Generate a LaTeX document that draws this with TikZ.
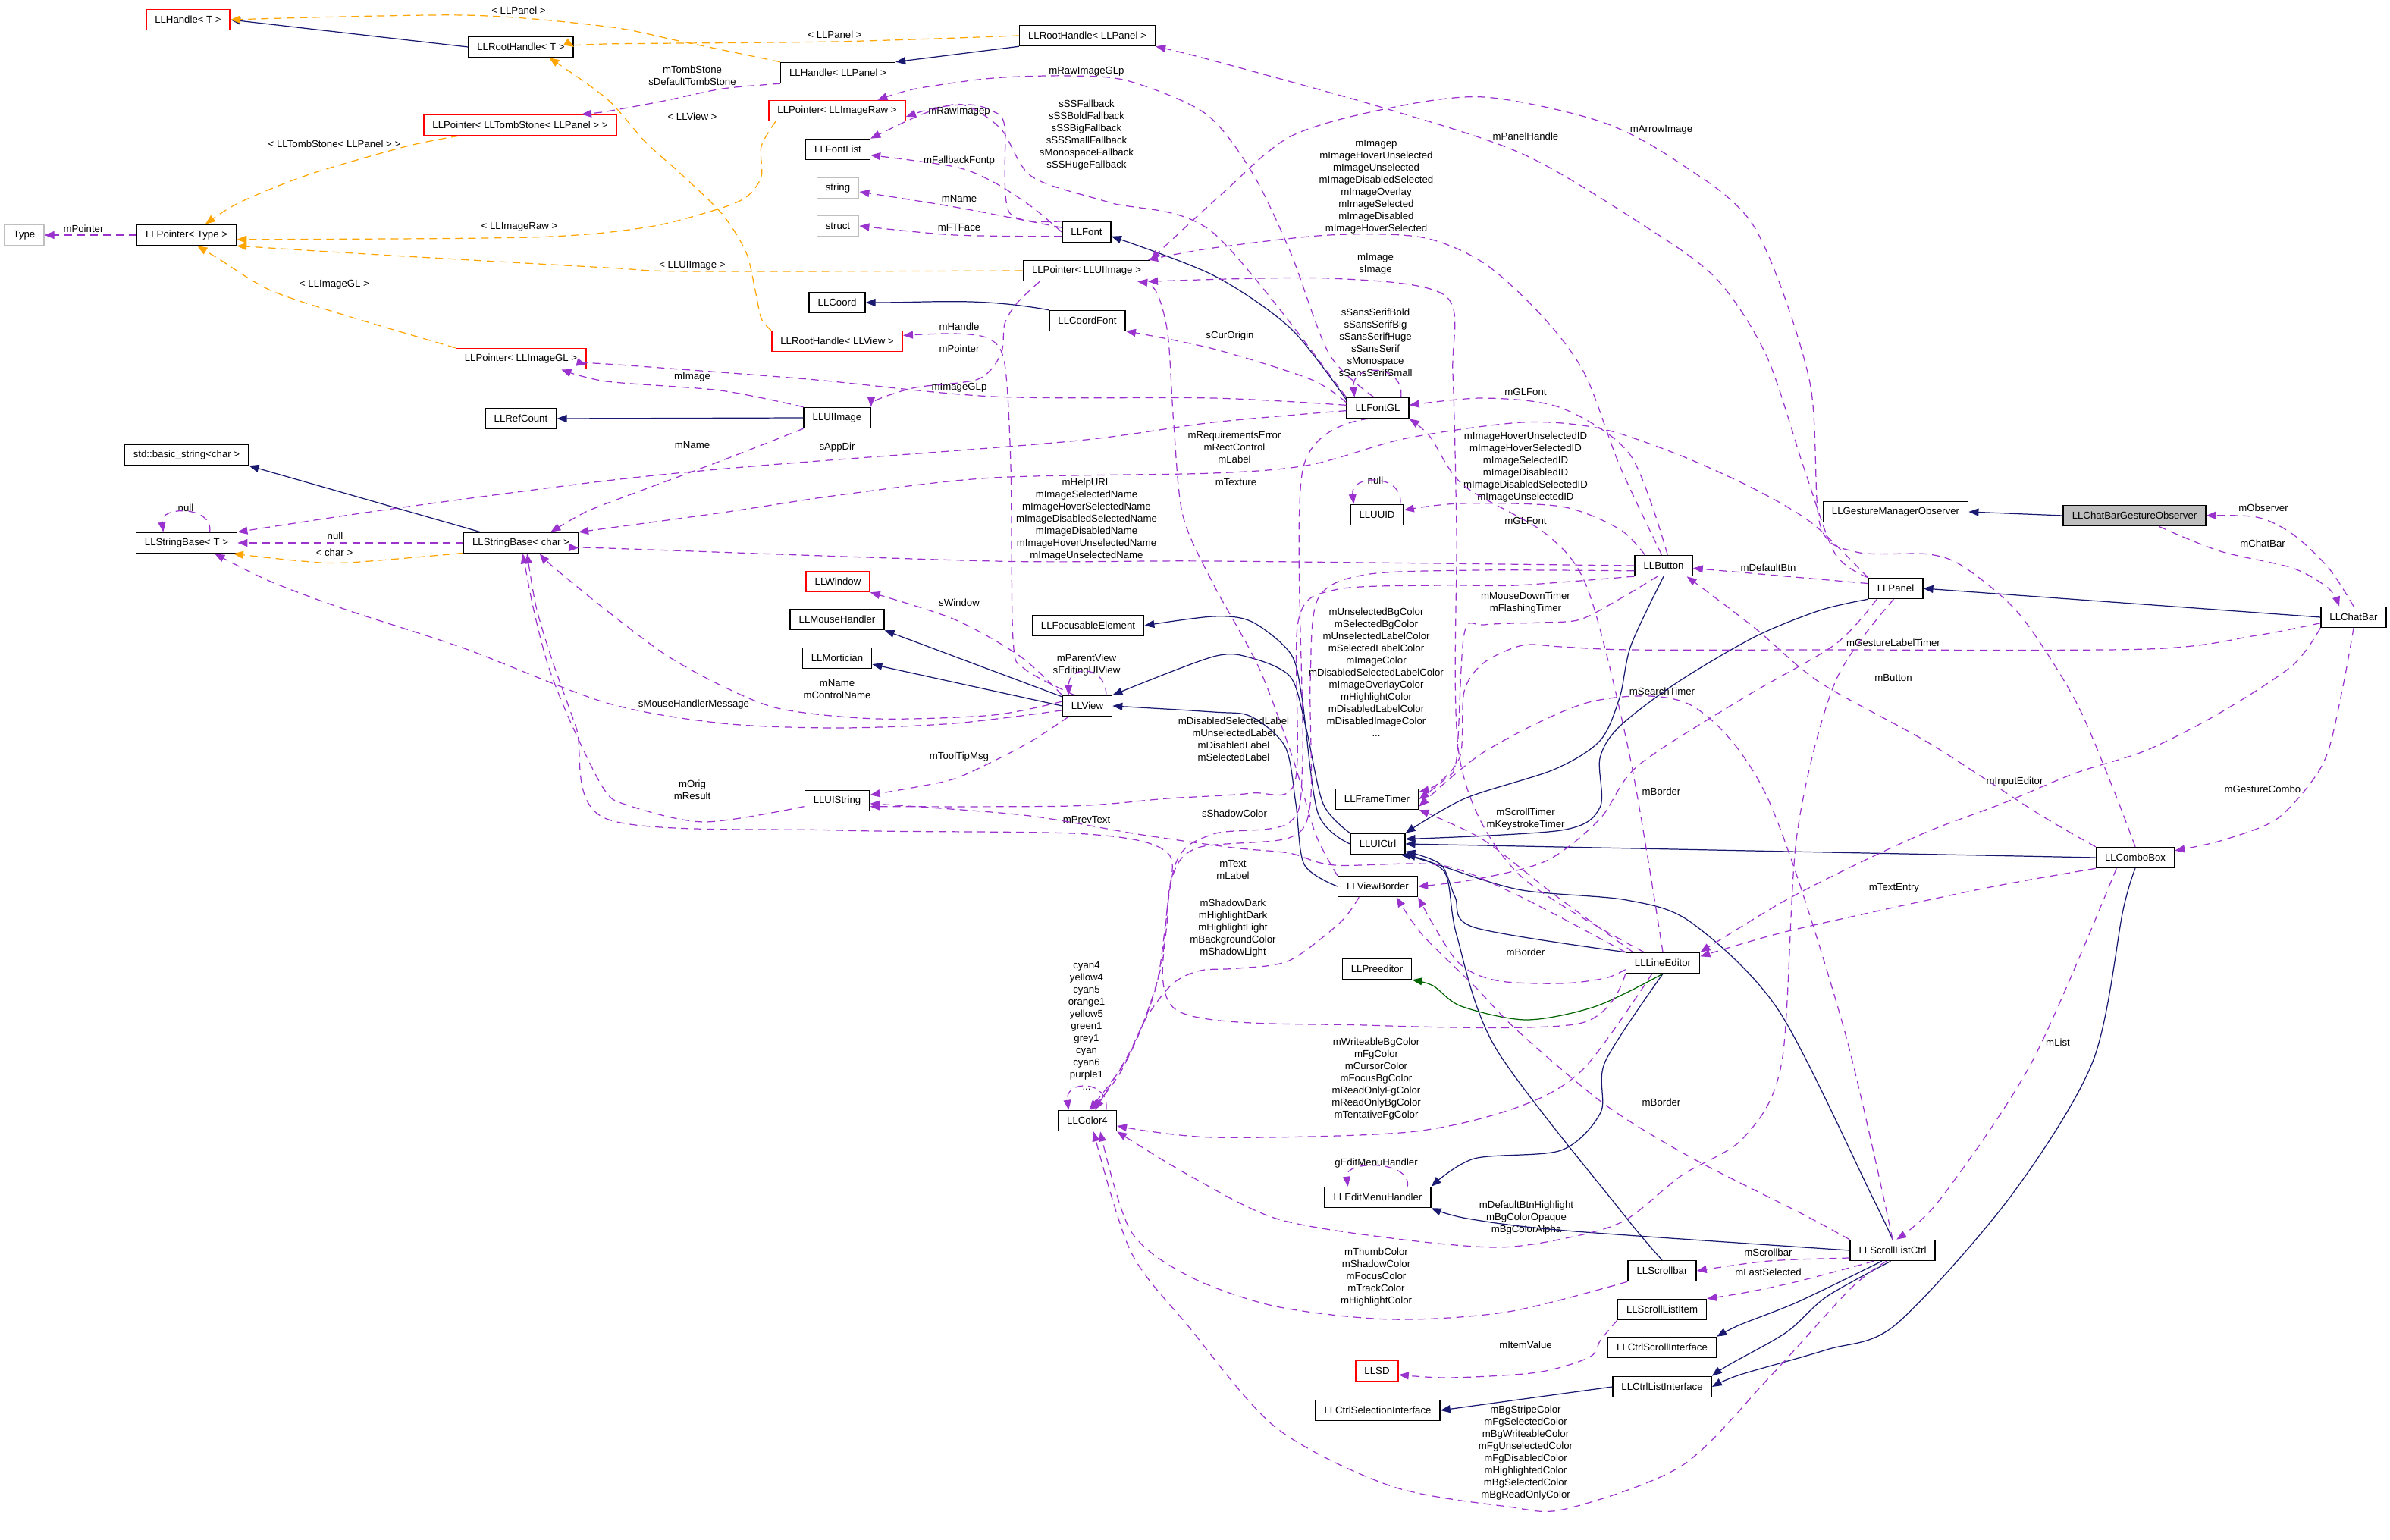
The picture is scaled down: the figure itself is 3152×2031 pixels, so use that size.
\documentclass[tikz,border=0pt]{standalone}
\usepackage{fontspec}
\setmainfont{Liberation Sans}
\usetikzlibrary{arrows.meta}
\definecolor{inhcol}{HTML}{191970}
\definecolor{usecol}{HTML}{9A32CD}
\definecolor{tplcol}{HTML}{FFA500}
\definecolor{prtcol}{HTML}{006400}
\definecolor{greyline}{HTML}{BFBFBF}
\definecolor{greyfill}{HTML}{BFBFBF}
\begin{document}
\begin{tikzpicture}[
    x=0.1mm, y=-0.1mm,
    every node/.style={font=\fontsize{3.76pt}{4.55pt}\selectfont, inner sep=0pt},
    cls/.style={draw=black, line width=0.45pt, minimum height=2.7mm, inner xsep=1.15mm},
    extcls/.style={cls, draw=red},
    undoc/.style={cls, draw=greyline},
    focus/.style={cls, fill=greyfill},
    elbl/.style={align=center},
    inherit/.style={color=inhcol, line width=0.35pt, -{Triangle[length=1.3mm,width=1.0mm]}},
    protinh/.style={inherit, color=prtcol},
    usage/.style={color=usecol, line width=0.35pt, dash pattern=on 1.0mm off 0.7mm, -{Triangle[length=1.3mm,width=1.0mm]}},
    tmpl/.style={usage, color=tplcol}
]
\useasboundingbox (0,0) rectangle (3152,2031);

\node[extcls] (hT) at (248,26) {LLHandle< T >};
\node[cls] (rhT) at (687,62) {LLRootHandle< T >};
\node[cls] (rhPanel) at (1434,47) {LLRootHandle< LLPanel >};
\node[cls] (hPanel) at (1105,96) {LLHandle< LLPanel >};
\node[extcls] (ptrTomb) at (686,165) {LLPointer< LLTombStone< LLPanel > >};
\node[extcls] (ptrRaw) at (1104,146) {LLPointer< LLImageRaw >};
\node[cls] (fontList) at (1105,197) {LLFontList};
\node[undoc] (string) at (1105,248) {string};
\node[undoc] (struct) at (1105,298) {struct};
\node[undoc] (Type) at (32,310) {Type};
\node[cls] (ptrType) at (246,310) {LLPointer< Type >};
\node[cls] (LLFont) at (1433,306) {LLFont};
\node[cls] (ptrUIImage) at (1433,357) {LLPointer< LLUIImage >};
\node[cls] (LLCoord) at (1104,399) {LLCoord};
\node[cls] (LLCoordFont) at (1434,423) {LLCoordFont};
\node[extcls] (rhView) at (1104,450) {LLRootHandle< LLView >};
\node[extcls] (ptrGL) at (687,473) {LLPointer< LLImageGL >};
\node[cls] (LLFontGL) at (1817,538) {LLFontGL};
\node[cls] (LLRefCount) at (687,552) {LLRefCount};
\node[cls] (LLUIImage) at (1104,551) {LLUIImage};
\node[cls] (basicString) at (246,600) {std::basic\_string<char >};
\node[cls] (LLUUID) at (1816,679) {LLUUID};
\node[cls] (gestMgrObs) at (2500,675) {LLGestureManagerObserver};
\node[focus] (chatBarGestObs) at (2815,680) {LLChatBarGestureObserver};
\node[cls] (sbT) at (246,716) {LLStringBase< T >};
\node[cls] (sbChar) at (687,716) {LLStringBase< char >};
\node[cls] (LLButton) at (2194,746) {LLButton};
\node[cls] (LLPanel) at (2500,776) {LLPanel};
\node[cls] (LLChatBar) at (3104,814) {LLChatBar};
\node[extcls] (LLWindow) at (1105,767) {LLWindow};
\node[cls] (LLMouseHandler) at (1104,817) {LLMouseHandler};
\node[cls] (LLMortician) at (1104,868) {LLMortician};
\node[cls] (LLFocusableElement) at (1435,825) {LLFocusableElement};
\node[cls] (LLView) at (1434,931) {LLView};
\node[cls] (LLUIString) at (1104,1056) {LLUIString};
\node[cls] (LLFrameTimer) at (1816,1054) {LLFrameTimer};
\node[cls] (LLUICtrl) at (1817,1113) {LLUICtrl};
\node[cls] (LLComboBox) at (2816,1131) {LLComboBox};
\node[cls] (LLViewBorder) at (1817,1169) {LLViewBorder};
\node[cls] (LLPreeditor) at (1816,1278) {LLPreeditor};
\node[cls] (LLLineEditor) at (2193,1270) {LLLineEditor};
\node[cls] (LLColor4) at (1434,1478) {LLColor4};
\node[cls] (LLEditMenuHandler) at (1817,1579) {LLEditMenuHandler};
\node[cls] (LLScrollListCtrl) at (2496,1649) {LLScrollListCtrl};
\node[cls] (LLScrollbar) at (2192,1676) {LLScrollbar};
\node[cls] (LLScrollListItem) at (2192,1727) {LLScrollListItem};
\node[cls] (LLCtrlScrollInterface) at (2192,1777) {LLCtrlScrollInterface};
\node[extcls] (LLSD) at (1816,1808) {LLSD};
\node[cls] (LLCtrlListInterface) at (2192,1829) {LLCtrlListInterface};
\node[cls] (LLCtrlSelectionInterface) at (1817,1860) {LLCtrlSelectionInterface};

\node[elbl] (lHandlePanel) at (684,14) {< LLPanel >};
\node[elbl] (lRootPanel) at (1101,46) {< LLPanel >};
\node[elbl] (lTomb) at (913,100) {mTombStone\\sDefaultTombStone};
\node[elbl] (lView) at (913,154) {< LLView >};
\node[elbl] (lRawGL) at (1433,94) {mRawImageGLp};
\node[elbl] (lRaw) at (1265,147) {mRawImagep};
\node[elbl] (lFallback) at (1433,178) {sSSFallback\\sSSBoldFallback\\sSSBigFallback\\sSSSmallFallback\\sMonospaceFallback\\sSSHugeFallback};
\node[elbl] (lFallbackFont) at (1265,212) {mFallbackFontp};
\node[elbl] (lFontName) at (1265,262) {mName};
\node[elbl] (lFace) at (1265,300) {mFTFace};
\node[elbl] (lUIImageTpl) at (913,350) {< LLUIImage >};
\node[elbl] (lHandle) at (1265,431) {mHandle};
\node[elbl] (lPointerUI) at (1265,460) {mPointer};
\node[elbl] (lImage) at (913,497) {mImage};
\node[elbl] (lTombTpl) at (441,190) {< LLTombStone< LLPanel > >};
\node[elbl] (lPointer) at (110,302) {mPointer};
\node[elbl] (lRawTpl) at (685,299) {< LLImageRaw >};
\node[elbl] (lGLTpl) at (441,375) {< LLImageGL >};
\node[elbl] (lArrow) at (2191,171) {mArrowImage};
\node[elbl] (lPanelHandle) at (2012,180) {mPanelHandle};
\node[elbl] (lBtnImages) at (1815,246) {mImagep\\mImageHoverUnselected\\mImageUnselected\\mImageDisabledSelected\\mImageOverlay\\mImageSelected\\mImageDisabled\\mImageHoverSelected};
\node[elbl] (lEdImage) at (1814,348) {mImage\\sImage};
\node[elbl] (lSans) at (1814,452) {sSansSerifBold\\sSansSerifBig\\sSansSerifHuge\\sSansSerif\\sMonospace\\sSansSerifSmall};
\node[elbl] (lOrigin) at (1622,443) {sCurOrigin};
\node[elbl] (lImageGL) at (1265,511) {mImageGLp};
\node[elbl] (lImgName) at (913,587) {mName};
\node[elbl] (lAppDir) at (1104,590) {sAppDir};
\node[elbl] (lHelp) at (1433,685) {mHelpURL\\mImageSelectedName\\mImageHoverSelectedName\\mImageDisabledSelectedName\\mImageDisabledName\\mImageHoverUnselectedName\\mImageUnselectedName};
\node[elbl] (lWindow) at (1265,795) {sWindow};
\node[elbl] (lParent) at (1433,877) {mParentView\\sEditingUIView};
\node[elbl] (lViewName) at (1104,909) {mName\\mControlName};
\node[elbl] (lMouseMsg) at (915,929) {sMouseHandlerMessage};
\node[elbl] (lToolTip) at (1265,998) {mToolTipMsg};
\node[elbl] (lOrig) at (913,1042) {mOrig\\mResult};
\node[elbl] (lPrev) at (1433,1081) {mPrevText};
\node[elbl] (lGLFontA) at (2012,517) {mGLFont};
\node[elbl] (lReq) at (1628,590) {mRequirementsError\\mRectControl\\mLabel};
\node[elbl] (lTexture) at (1630,636) {mTexture};
\node[elbl] (lUUIDNull) at (1814,634) {null};
\node[elbl] (lIDs) at (2012,616) {mImageHoverUnselectedID\\mImageHoverSelectedID\\mImageSelectedID\\mImageDisabledID\\mImageDisabledSelectedID\\mImageUnselectedID};
\node[elbl] (lGLFontB) at (2012,687) {mGLFont};
\node[elbl] (lDefBtn) at (2332,749) {mDefaultBtn};
\node[elbl] (lMouseTimer) at (2012,795) {mMouseDownTimer\\mFlashingTimer};
\node[elbl] (lBtnColors) at (1815,887) {mUnselectedBgColor\\mSelectedBgColor\\mUnselectedLabelColor\\mSelectedLabelColor\\mImageColor\\mDisabledSelectedLabelColor\\mImageOverlayColor\\mHighlightColor\\mDisabledLabelColor\\mDisabledImageColor\\...};
\node[elbl] (lSearch) at (2192,912) {mSearchTimer};
\node[elbl] (lBorderA) at (2191,1044) {mBorder};
\node[elbl] (lScrollTimer) at (2012,1080) {mScrollTimer\\mKeystrokeTimer};
\node[elbl] (lLabels) at (1627,975) {mDisabledSelectedLabel\\mUnselectedLabel\\mDisabledLabel\\mSelectedLabel};
\node[elbl] (lShadow) at (1628,1073) {sShadowColor};
\node[elbl] (lObserver) at (2985,670) {mObserver};
\node[elbl] (lChatBar) at (2984,717) {mChatBar};
\node[elbl] (lGestTimer) at (2497,848) {mGestureLabelTimer};
\node[elbl] (lButton) at (2497,894) {mButton};
\node[elbl] (lInput) at (2657,1031) {mInputEditor};
\node[elbl] (lGestCombo) at (2984,1041) {mGestureCombo};
\node[elbl] (lTextEntry) at (2498,1171) {mTextEntry};
\node[elbl] (lTextLabel) at (1626,1147) {mText\\mLabel};
\node[elbl] (lBorderColors) at (1626,1224) {mShadowDark\\mHighlightDark\\mHighlightLight\\mBackgroundColor\\mShadowLight};
\node[elbl] (lBorderB) at (2012,1256) {mBorder};
\node[elbl] (lEdColors) at (1815,1423) {mWriteableBgColor\\mFgColor\\mCursorColor\\mFocusBgColor\\mReadOnlyFgColor\\mReadOnlyBgColor\\mTentativeFgColor};
\node[elbl] (lBorderC) at (2191,1454) {mBorder};
\node[elbl] (lEditMenu) at (1815,1534) {gEditMenuHandler};
\node[elbl] (lPanelColors) at (2013,1606) {mDefaultBtnHighlight\\mBgColorOpaque\\mBgColorAlpha};
\node[elbl] (lBarColors) at (1815,1684) {mThumbColor\\mShadowColor\\mFocusColor\\mTrackColor\\mHighlightColor};
\node[elbl] (lScrollbar) at (2332,1652) {mScrollbar};
\node[elbl] (lLastSel) at (2332,1678) {mLastSelected};
\node[elbl] (lItemValue) at (2012,1774) {mItemValue};
\node[elbl] (lListColors) at (2012,1916) {mBgStripeColor\\mFgSelectedColor\\mBgWriteableColor\\mFgUnselectedColor\\mFgDisabledColor\\mHighlightedColor\\mBgSelectedColor\\mBgReadOnlyColor};
\node[elbl] (lColors) at (1433,1353) {cyan4\\yellow4\\cyan5\\orange1\\yellow5\\green1\\grey1\\cyan\\cyan6\\purple1\\...};
\node[elbl] (lList) at (2714,1375) {mList};
\node[elbl] (lNullT) at (245,670) {null};
\node[elbl] (lNullChar) at (442,707) {null};
\node[elbl] (lChar) at (441,729) {< char >};

\draw[inherit] (rhT.west) -- (hT.east);
\draw[inherit] (rhPanel.south west) -- (hPanel.north east);
\draw[inherit] (LLUIImage.west) -- (LLRefCount.east);
\draw[inherit] (sbChar.165) -- (basicString.south east);
\draw[inherit] (LLCoordFont.north west) to[out=170,in=0] (LLCoord.east);
\draw[inherit] plot[smooth] coordinates {(LLFontGL.165) (1702,433) (1600,363) (LLFont.-10)};
\draw[inherit] (LLView.160) -- (LLMouseHandler.south east);
\draw[inherit] (LLView.west) -- (LLMortician.-10);
\draw[inherit] plot[smooth] coordinates {(LLUICtrl.north west) (1745,1060) (1722,958) (1702,893) (1651,868) (1600,866) (LLView.north east)};
\draw[inherit] plot[smooth] coordinates {(LLUICtrl.west) (1738,1072) (1717,920) (1702,862) (1651,820) (1600,813) (LLFocusableElement.east)};
\draw[inherit] plot[smooth] coordinates {(LLViewBorder.west) (1720,1140) (1709,1060) (1695,985) (1650,945) (1600,939) (LLView.east)};
\draw[inherit] plot[smooth] coordinates {(LLButton.south) (2151,851) (2136,920) (2110,977) (2049,1015) (1932,1053) (LLUICtrl.north east)};
\draw[inherit] plot[smooth] coordinates {(LLPanel.south west) (2400,805) (2314,840) (2212,900) (2136,958) (2110,1000) (2110,1065) (2059,1095) (LLUICtrl.10)};
\draw[inherit] (LLComboBox.west) -- (LLUICtrl.east);
\draw[inherit] plot[smooth] coordinates {(LLLineEditor.north west) (1944,1223) (1919,1183) (1900,1140) (LLUICtrl.-15)};
\draw[inherit] plot[smooth] coordinates {(LLScrollbar.north) (2140,1600) (1973,1383) (1921,1233) (1905,1150) (LLUICtrl.south east)};
\draw[inherit] plot[smooth] coordinates {(LLScrollListCtrl.north) (2470,1580) (2346,1333) (2231,1217) (2145,1187) (2002,1173) (1880,1135) (LLUICtrl.-25)};
\draw[inherit] plot[smooth] coordinates {(LLLineEditor.south) (2117,1400) (2111,1467) (2059,1517) (1944,1528) (LLEditMenuHandler.north east)};
\draw[inherit] plot[smooth] coordinates {(LLScrollListCtrl.west) (2065,1623) (1935,1607) (LLEditMenuHandler.south east)};
\draw[inherit] plot[smooth] coordinates {(LLScrollListCtrl.-135) (2371,1717) (2295,1747) (LLCtrlScrollInterface.north east)};
\draw[inherit] plot[smooth] coordinates {(LLScrollListCtrl.-100) (2409,1710) (2356,1757) (2280,1800) (LLCtrlListInterface.north east)};
\draw[inherit] plot[smooth] coordinates {(LLComboBox.south) (2800,1200) (2760,1400) (2650,1580) (2500,1747) (2409,1780) (2295,1813) (LLCtrlListInterface.east)};
\draw[inherit] (LLCtrlListInterface.west) -- (LLCtrlSelectionInterface.east);
\draw[inherit] (LLChatBar.west) -- (LLPanel.east);
\draw[inherit] (chatBarGestObs.west) -- (gestMgrObs.east);
\draw[protinh] plot[smooth] coordinates {(LLLineEditor.south) (2105,1327) (2013,1345) (1927,1327) (1890,1300) (LLPreeditor.south east)};

\draw[tmpl] plot[smooth] coordinates {(hPanel.north west) (900,55) (800,35) (612,20) (hT.east)};
\draw[tmpl] plot[smooth] coordinates {(rhPanel.west) (1101,55) (800,58) (rhT.east)};
\draw[tmpl] plot[smooth] coordinates {(ptrTomb.-170) (536,193) (408,230) (316,267) (ptrType.30)};
\draw[tmpl] plot[smooth] coordinates {(ptrRaw.-170) (1004,193) (1004,233) (984,260) (943,277) (851,300) (700,313) (ptrType.-5)};
\draw[tmpl] plot[smooth] coordinates {(ptrUIImage.west) (913,358) (800,353) (500,336) (ptrType.south east)};
\draw[tmpl] plot[smooth] coordinates {(ptrGL.north west) (459,417) (357,383) (291,343) (ptrType.-45)};
\draw[tmpl] plot[smooth] coordinates {(rhView.north west) (1004,420) (996,383) (984,333) (953,283) (902,233) (851,187) (800,130) (rhT.-21)};
\draw[tmpl] plot[smooth] coordinates {(sbChar.-170) (459,742) (398,740) (sbT.-13)};

\draw[usage] (ptrType.west) -- (Type.east);
\draw[usage] plot[smooth] coordinates {(hPanel.south west) (953,117) (876,133) (800,147) (ptrTomb.10)};
\draw[usage] plot[smooth] coordinates {(LLFontGL.110) (1753,467) (1702,333) (1651,227) (1590,150) (1489,107) (1412,100) (1310,103) (1208,117) (ptrRaw.15)};
\draw[usage] plot[smooth] coordinates {(LLFont.north west) (1331,280) (1325,167) (1310,147) (1280,138) (1234,142) (ptrRaw.-5)};
\draw[usage] plot[smooth] coordinates {(LLFont.west) (1361,273) (1310,240) (1259,220) (fontList.-10)};
\draw[usage] plot[smooth] coordinates {(LLFontGL.north west) (1600,307) (1463,267) (1361,233) (1320,170) (1269,138) (1218,150) (fontList.north east)};
\draw[usage] plot[smooth] coordinates {(LLFont.170) (1259,273) (string.-10)};
\draw[usage] plot[smooth] coordinates {(LLFont.-170) (1259,310) (struct.east)};
\draw[usage] (LLFontGL.25) .. controls +(5,-45) and +(-5,-45) .. (LLFontGL.155);
\draw[usage] plot[smooth] coordinates {(LLFontGL.170) (1728,500) (1600,460) (LLCoordFont.-15)};
\draw[usage] plot[smooth] coordinates {(LLFontGL.175) (1600,525) (1310,523) (1065,500) (800,480) (ptrGL.-5)};
\draw[usage] plot[smooth] coordinates {(LLUIImage.north west) (950,515) (800,503) (ptrGL.-15)};
\draw[usage] plot[smooth] coordinates {(LLUIImage.south west) (953,607) (800,664) (765,679) (sbChar.20)};
\draw[usage] plot[smooth] coordinates {(LLFontGL.-175) (1600,557) (1412,582) (1004,614) (800,634) (510,672) (sbT.north east)};
\draw[usage] plot[smooth] coordinates {(LLButton.west) (1600,740) (1310,740) (800,723) (sbChar.-5)};
\draw[usage] plot[smooth] coordinates {(LLPanel.north west) (2391,691) (2314,645) (2212,599) (2110,565) (2008,557) (1855,578) (1728,613) (1600,624) (1310,630) (1106,653) (953,676) (sbChar.north east)};
\draw[usage] plot[smooth] coordinates {(LLView.170) (1310,943) (1157,948) (1030,935) (953,905) (877,863) (796,802) (730,748) (sbChar.-30)};
\draw[usage] plot[smooth] coordinates {(LLView.-170) (1259,954) (1106,960) (953,954) (800,927) (612,855) (459,805) (357,767) (sbT.-21)};
\draw[usage] plot[smooth] coordinates {(LLView.north west) (1346,866) (1259,817) (LLWindow.south east)};
\draw[usage] (LLView.30) .. controls +(0,-40) and +(0,-40) .. (LLView.150);
\draw[usage] plot[smooth] coordinates {(LLView.-150) (1361,977) (1310,1004) (1259,1027) (1208,1038) (LLUIString.10)};
\draw[usage] plot[smooth] coordinates {(LLUIString.-170) (928,1084) (825,1061) (796,1040) (755,958) (724,881) (704,805) (sbChar.-80)};
\draw[usage] plot[smooth] coordinates {(LLLineEditor.south west) (2082,1350) (1800,1352) (1553,1333) (1540,1200) (1540,1125) (1433,1100) (1106,1095) (800,1080) (760,960) (728,870) (707,800) (sbChar.-60)};
\draw[usage] plot[smooth] coordinates {(LLLineEditor.north west) (2000,1180) (1900,1141) (1760,1141) (1700,1125) (1626,1118) (1500,1100) (1350,1075) (LLUIString.-5)};
\draw[usage] plot[smooth] coordinates {(LLViewBorder.north west) (1735,1100) (1705,1000) (1660,880) (1600,770) (1560,680) (1548,560) (1540,440) (1524,383) (ptrUIImage.-12)};
\draw[usage] plot[smooth] coordinates {(LLButton.-160) (2000,772) (1900,772) (1760,778) (1712,820) (1708,1030) (1650,1046) (1540,1053) (1412,1063) (LLUIString.-10)};
\draw[usage] plot[smooth] coordinates {(LLButton.-170) (1950,752) (1800,758) (1738,790) (1728,900) (1728,1060) (1700,1105) (1580,1118) (1545,1160) (1530,1280) (1490,1390) (LLColor4.80)};
\draw[usage] plot[smooth] coordinates {(LLFontGL.-130) (1718,620) (1718,1000) (1700,1085) (1600,1100) (1550,1140) (1525,1300) (1480,1410) (LLColor4.70)};
\draw[usage] plot[smooth] coordinates {(LLViewBorder.-150) (1767,1217) (1700,1267) (1633,1277) (1583,1280) (1547,1297) (1513,1340) (1487,1393) (LLColor4.55)};
\draw[usage] plot[smooth] coordinates {(LLLineEditor.-135) (2088,1410) (2002,1460) (1858,1493) (1600,1500) (LLColor4.-10)};
\draw[usage] plot[smooth] coordinates {(LLScrollbar.south west) (1989,1730) (1835,1740) (1683,1723) (1568,1683) (1491,1623) (LLColor4.-40)};
\draw[usage] plot[smooth] coordinates {(LLPanel.-100) (2420,900) (2370,1100) (2350,1400) (2300,1500) (2218,1550) (2142,1610) (2065,1633) (1973,1645) (1835,1633) (1683,1607) (1568,1550) (LLColor4.-20)};
\draw[usage] plot[smooth] coordinates {(LLScrollListCtrl.-120) (2440,1700) (2333,1817) (2218,1933) (2065,1990) (1989,1987) (1835,1960) (1683,1883) (1568,1750) (1491,1650) (LLColor4.-60)};
\draw[usage] (LLColor4.30) .. controls +(5,-40) and +(-5,-40) .. (LLColor4.150);
\draw[usage] (LLEditMenuHandler.20) .. controls +(5,-35) and +(-5,-35) .. (LLEditMenuHandler.160);
\draw[usage] (LLUUID.25) .. controls +(5,-40) and +(-5,-40) .. (LLUUID.155);
\draw[usage] (sbT.25) .. controls +(5,-35) and +(-5,-35) .. (sbT.155);
\draw[usage] (sbChar.west) -- (sbT.east);
\draw[usage] plot[smooth] coordinates {(LLButton.150) (2136,698) (2059,668) (1926,664) (LLUUID.10)};
\draw[usage] plot[smooth] coordinates {(LLButton.70) (2150,600) (2059,538) (1957,525) (LLFontGL.5)};
\draw[usage] plot[smooth] coordinates {(LLLineEditor.north) (2150,1000) (2095,780) (2040,705) (1930,640) (1886,576) (LLFontGL.south east)};
\draw[usage] plot[smooth] coordinates {(LLButton.100) (2136,614) (2090,493) (2034,417) (1957,347) (1875,313) (1753,310) (1600,327) (ptrUIImage.10)};
\draw[usage] plot[smooth] coordinates {(LLLineEditor.150) (2000,1150) (1925,1000) (1921,700) (1916,493) (1906,390) (1753,367) (ptrUIImage.-10)};
\draw[usage] plot[smooth] coordinates {(ptrUIImage.-167) (1341,400) (1325,427) (1320,467) (1290,500) (1208,511) (1157,527) (LLUIImage.north east)};
\draw[usage] plot[smooth] coordinates {(LLView.140) (1351,882) (1336,843) (1333,614) (1325,480) (1305,447) (1259,440) (rhView.5)};
\draw[usage] plot[smooth] coordinates {(LLPanel.170) (2332,758) (LLButton.-5)};
\draw[usage] plot[smooth] coordinates {(LLComboBox.north west) (2688,1073) (2544,980) (2400,900) (2314,828) (LLButton.-25)};
\draw[usage] plot[smooth] coordinates {(LLChatBar.south west) (3023,878) (2928,940) (2832,989) (2736,1020) (2640,1060) (2544,1096) (2448,1140) (2350,1190) (LLLineEditor.north east)};
\draw[usage] plot[smooth] coordinates {(LLComboBox.south west) (2640,1167) (2515,1193) (2350,1230) (LLLineEditor.10)};
\draw[usage] plot[smooth] coordinates {(LLChatBar.south) (3091,900) (3071,989) (3047,1033) (3000,1082) (2928,1109) (LLComboBox.10)};
\draw[usage] plot[smooth] coordinates {(LLChatBar.north) (3071,749) (3023,704) (2976,682) (chatBarGestObs.east)};
\draw[usage] plot[smooth] coordinates {(chatBarGestObs.-24) (2928,727) (3023,749) (3071,776) (LLChatBar.143)};
\draw[usage] plot[smooth] coordinates {(LLChatBar.-170) (2976,838) (2832,856) (2400,857) (2151,857) (2059,853) (2008,851) (1957,874) (1931,912) (1926,996) (1896,1034) (LLFrameTimer.10)};
\draw[usage] plot[smooth] coordinates {(LLButton.-120) (2136,790) (2084,817) (2034,821) (1957,824) (1931,836) (1921,1000) (1906,1027) (LLFrameTimer.east)};
\draw[usage] plot[smooth] coordinates {(LLLineEditor.160) (2050,1180) (1960,1110) (1900,1080) (LLFrameTimer.south east)};
\draw[usage] plot[smooth] coordinates {(LLScrollListCtrl.north) (2430,1350) (2330,1050) (2230,930) (2100,925) (1960,990) (LLFrameTimer.-10)};
\draw[usage] plot[smooth] coordinates {(LLPanel.north west) (2420,730) (2380,620) (2330,470) (2263,367) (2161,293) (2008,203) (1827,143) (1600,80) (rhPanel.south east)};
\draw[usage] plot[smooth] coordinates {(LLComboBox.north) (2784,1033) (2736,922) (2664,811) (2592,749) (2544,731) (2448,728) (2400,691) (2386,500) (2314,300) (2212,213) (2110,160) (1957,128) (1830,143) (1702,180) (1610,257) (ptrUIImage.north east)};
\draw[usage] plot[smooth] coordinates {(LLScrollListCtrl.-170) (2333,1663) (LLScrollbar.east)};
\draw[usage] plot[smooth] coordinates {(LLScrollListCtrl.-150) (2371,1690) (2300,1705) (LLScrollListItem.north east)};
\draw[usage] plot[smooth] coordinates {(LLScrollListItem.south west) (2111,1767) (2096,1790) (2027,1810) (1912,1817) (LLSD.-10)};
\draw[usage] plot[smooth] coordinates {(LLComboBox.-150) (2680,1400) (2560,1580) (LLScrollListCtrl.70)};
\draw[usage] plot[smooth] coordinates {(LLPanel.-150) (2420,850) (2300,920) (2160,1010) (2110,1080) (2040,1135) (1944,1160) (LLViewBorder.east)};
\draw[usage] plot[smooth] coordinates {(LLLineEditor.-170) (2117,1290) (2059,1297) (1973,1293) (1921,1267) (LLViewBorder.south east)};
\draw[usage] plot[smooth] coordinates {(LLScrollListCtrl.north west) (2375,1600) (2231,1527) (2117,1457) (2002,1360) (1944,1300) (1876,1233) (LLViewBorder.-30)};
\end{tikzpicture}
\end{document}
